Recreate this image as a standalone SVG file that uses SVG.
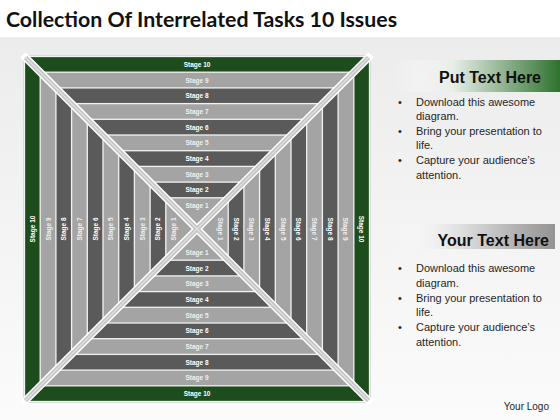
<svg xmlns="http://www.w3.org/2000/svg" width="560" height="420" viewBox="0 0 560 420">
<defs>
<linearGradient id="bg" x1="0" y1="0" x2="0" y2="1"><stop offset="0" stop-color="#ececec"/><stop offset="1" stop-color="#fbfbfb"/></linearGradient>
<linearGradient id="gbar" x1="0" y1="0" x2="1" y2="0"><stop offset="0" stop-color="#ffffff" stop-opacity="0"/><stop offset="0.35" stop-color="#e8eee8"/><stop offset="1" stop-color="#2f722f"/></linearGradient>
<linearGradient id="sbar" x1="0" y1="0" x2="1" y2="0"><stop offset="0" stop-color="#ffffff" stop-opacity="0"/><stop offset="0.35" stop-color="#e6e6e6"/><stop offset="1" stop-color="#939393"/></linearGradient>
<style>
.band{stroke:#f2f2f2;stroke-width:1.3}
.g{fill:#1d4d1d}
.l{fill:#a4a4a4}
.d{fill:#5a5a5a}
.s{font-family:"Liberation Sans",Arial,sans-serif;font-weight:bold;font-size:6.5px;fill:#ffffff;text-anchor:middle;dominant-baseline:central}
.sl{fill:#f0f0f0}
.t{font-family:"Liberation Sans",Arial,sans-serif;font-size:11px;fill:#262626}
.h{font-family:"Liberation Sans",Arial,sans-serif;font-weight:bold;font-size:16px;fill:#111111;text-anchor:end}
.rw{stroke:#ffffff;stroke-width:7.5;stroke-linecap:square}
.rg{stroke:#c4c4c4;stroke-width:4.5}
.rc{stroke:#e4e4e4;stroke-width:1.2}
</style>
</defs>
<rect width="560" height="420" fill="#ffffff"/>
<rect x="0" y="37" width="560" height="383" fill="url(#bg)"/>
<text x="6" y="27" font-family="Lato,'Liberation Sans',sans-serif" font-weight="bold" font-size="21" fill="#111111" textLength="391" lengthAdjust="spacingAndGlyphs">Collection Of Interrelated Tasks 10 Issues</text>

<rect x="23.5" y="55.5" width="347" height="347" fill="none" stroke="#d6d6d6" stroke-width="1"/>
<g id="stage-10"><rect class="band g" x="24.5" y="56.5" width="345" height="345"/>
<text class="s" x="197" y="64.35">Stage 10</text><text class="s" x="197" y="393.65">Stage 10</text>
<text class="s" transform="translate(32.35 229) rotate(-90)">Stage 10</text><text class="s" transform="translate(361.65 229) rotate(90)">Stage 10</text></g>
<g id="stage-9"><rect class="band l" x="40.2" y="72.2" width="313.6" height="313.6"/>
<text class="s sl" x="197" y="80.05">Stage 9</text><text class="s sl" x="197" y="377.95">Stage 9</text>
<text class="s sl" transform="translate(48.05 229) rotate(-90)">Stage 9</text><text class="s sl" transform="translate(345.95 229) rotate(90)">Stage 9</text></g>
<g id="stage-8"><rect class="band d" x="55.9" y="87.9" width="282.2" height="282.2"/>
<text class="s" x="197" y="95.75">Stage 8</text><text class="s" x="197" y="362.25">Stage 8</text>
<text class="s" transform="translate(63.75 229) rotate(-90)">Stage 8</text><text class="s" transform="translate(330.25 229) rotate(90)">Stage 8</text></g>
<g id="stage-7"><rect class="band l" x="71.6" y="103.6" width="250.8" height="250.8"/>
<text class="s sl" x="197" y="111.45">Stage 7</text><text class="s sl" x="197" y="346.55">Stage 7</text>
<text class="s sl" transform="translate(79.45 229) rotate(-90)">Stage 7</text><text class="s sl" transform="translate(314.55 229) rotate(90)">Stage 7</text></g>
<g id="stage-6"><rect class="band d" x="87.3" y="119.3" width="219.4" height="219.4"/>
<text class="s" x="197" y="127.15">Stage 6</text><text class="s" x="197" y="330.85">Stage 6</text>
<text class="s" transform="translate(95.15 229) rotate(-90)">Stage 6</text><text class="s" transform="translate(298.85 229) rotate(90)">Stage 6</text></g>
<g id="stage-5"><rect class="band l" x="103" y="135" width="188" height="188"/>
<text class="s sl" x="197" y="142.85">Stage 5</text><text class="s sl" x="197" y="315.15">Stage 5</text>
<text class="s sl" transform="translate(110.85 229) rotate(-90)">Stage 5</text><text class="s sl" transform="translate(283.15 229) rotate(90)">Stage 5</text></g>
<g id="stage-4"><rect class="band d" x="118.7" y="150.7" width="156.6" height="156.6"/>
<text class="s" x="197" y="158.55">Stage 4</text><text class="s" x="197" y="299.45">Stage 4</text>
<text class="s" transform="translate(126.55 229) rotate(-90)">Stage 4</text><text class="s" transform="translate(267.45 229) rotate(90)">Stage 4</text></g>
<g id="stage-3"><rect class="band l" x="134.4" y="166.4" width="125.2" height="125.2"/>
<text class="s sl" x="197" y="174.25">Stage 3</text><text class="s sl" x="197" y="283.75">Stage 3</text>
<text class="s sl" transform="translate(142.25 229) rotate(-90)">Stage 3</text><text class="s sl" transform="translate(251.75 229) rotate(90)">Stage 3</text></g>
<g id="stage-2"><rect class="band d" x="150.1" y="182.1" width="93.8" height="93.8"/>
<text class="s" x="197" y="189.95">Stage 2</text><text class="s" x="197" y="268.05">Stage 2</text>
<text class="s" transform="translate(157.95 229) rotate(-90)">Stage 2</text><text class="s" transform="translate(236.05 229) rotate(90)">Stage 2</text></g>
<g id="stage-1"><rect class="band l" x="165.8" y="197.8" width="62.4" height="62.4"/>
<text class="s sl" x="197" y="205.65">Stage 1</text><text class="s sl" x="197" y="252.35">Stage 1</text>
<text class="s sl" transform="translate(173.65 229) rotate(-90)">Stage 1</text><text class="s sl" transform="translate(220.35 229) rotate(90)">Stage 1</text></g>

<g id="connectors">
<line class="rw" x1="25.5" y1="57.5" x2="368.5" y2="400.5"/>
<line class="rw" x1="368.5" y1="57.5" x2="25.5" y2="400.5"/>
<line class="rg" x1="25.5" y1="57.5" x2="368.5" y2="400.5"/>
<line class="rg" x1="368.5" y1="57.5" x2="25.5" y2="400.5"/>
<line class="rc" x1="25.5" y1="57.5" x2="368.5" y2="400.5"/>
<line class="rc" x1="368.5" y1="57.5" x2="25.5" y2="400.5"/>
</g>

<g id="panel-1">
<rect x="395" y="60" width="165" height="32" fill="url(#gbar)"/>
<text class="h" x="541" y="83">Put Text Here</text>
<text class="t" x="398" y="106">•</text><text class="t" x="416" y="106">Download this awesome</text>
<text class="t" x="416" y="120">diagram.</text>
<text class="t" x="398" y="135">•</text><text class="t" x="416" y="135">Bring your presentation  to</text>
<text class="t" x="416" y="149">life.</text>
<text class="t" x="398" y="164">•</text><text class="t" x="416" y="164">Capture your audience’s</text>
<text class="t" x="416" y="179">attention.</text>
</g>
<g id="panel-2">
<rect x="395" y="224" width="160" height="25" fill="url(#sbar)"/>
<text class="h" x="549" y="246">Your Text Here</text>
<text class="t" x="398" y="272">•</text><text class="t" x="416" y="272">Download this awesome</text>
<text class="t" x="416" y="287">diagram.</text>
<text class="t" x="398" y="302">•</text><text class="t" x="416" y="302">Bring your presentation  to</text>
<text class="t" x="416" y="316">life.</text>
<text class="t" x="398" y="331">•</text><text class="t" x="416" y="331">Capture your audience’s</text>
<text class="t" x="416" y="346">attention.</text>
</g>
<text x="549" y="410" font-family="Liberation Sans,Arial,sans-serif" font-size="10" fill="#262626" text-anchor="end">Your Logo</text>
</svg>
